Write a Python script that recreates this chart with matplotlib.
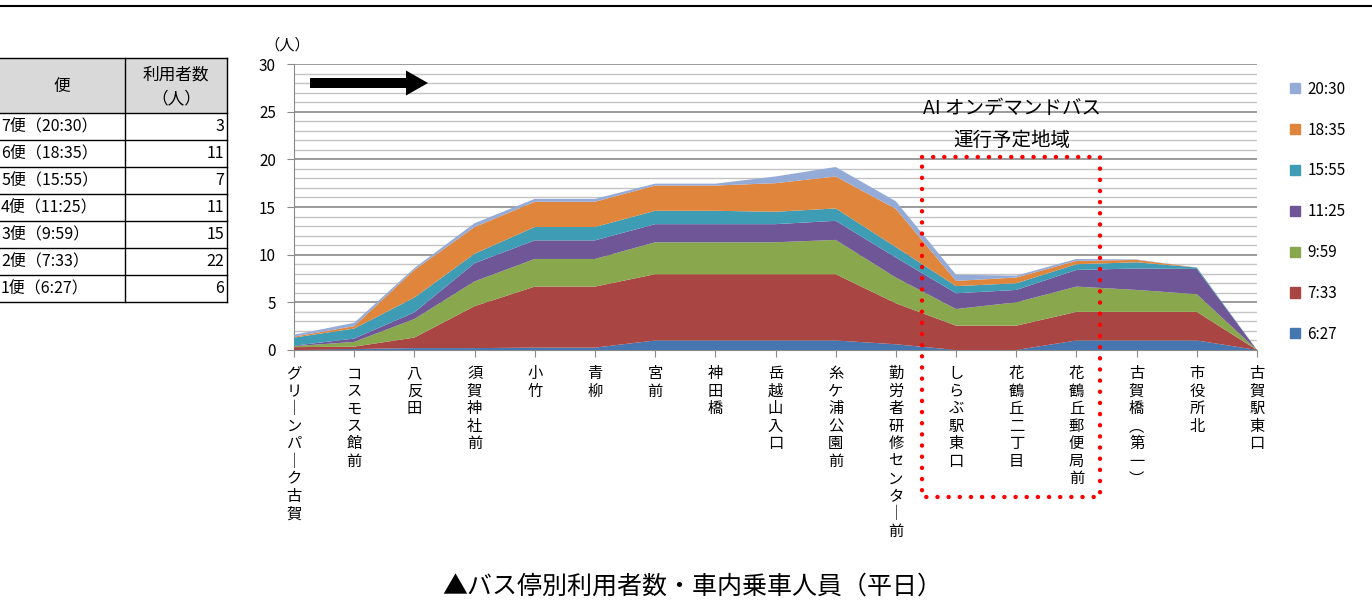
import numpy as np
import matplotlib
matplotlib.use('Agg')
import matplotlib.pyplot as plt
from matplotlib.patches import Patch, Rectangle, FancyArrow

plt.rcParams['font.family'] = ['Noto Sans CJK JP', 'DejaVu Sans']

# bus stops, in running order
stops = ['グリーンパーク古賀', 'コスモス館前', '八反田', '須賀神社前', '小竹', '青柳', '宮前',
         '神田橋', '岳越山入口', '糸ケ浦公園前', '勤労者研修センター前', 'しらぶ駅東口',
         '花鶴丘二丁目', '花鶴丘郵便局前', '古賀橋（第一）', '市役所北', '古賀駅東口']

# riders on board per trip (stacked from bottom)
trips = ['6:27', '7:33', '9:59', '11:25', '15:55', '18:35', '20:30']
t0627 = [0, 0.1, 0.2, 0.2, 0.25, 0.25, 1.0, 1.0, 1.0, 1.0, 0.6, 0, 0, 1.0, 1.0, 1.0, 0]
t0733 = [0.3, 0.25, 1.1, 4.4, 6.4, 6.4, 6.95, 6.95, 6.95, 6.95, 4.3, 2.55, 2.55, 3.0, 3.0, 3.0, 0]
t0959 = [0.1, 0.5, 1.95, 2.6, 2.9, 2.9, 3.35, 3.35, 3.35, 3.6, 2.7, 1.75, 2.45, 2.65, 2.3, 1.85, 0]
t1125 = [0.05, 0.35, 0.7, 1.9, 1.95, 1.95, 1.9, 1.9, 1.9, 2.0, 2.1, 1.65, 1.3, 1.75, 2.25, 2.65, 0]
t1555 = [0.85, 1.05, 1.55, 1.0, 1.4, 1.4, 1.4, 1.4, 1.3, 1.3, 1.1, 0.75, 0.7, 0.6, 0.65, 0.15, 0]
t1835 = [0.1, 0.25, 2.9, 2.8, 2.65, 2.65, 2.65, 2.65, 3.0, 3.35, 4.0, 0.55, 0.6, 0.35, 0.25, 0, 0]
t2030 = [0.2, 0.35, 0.2, 0.4, 0.3, 0.3, 0.2, 0.2, 0.7, 1.0, 0.8, 0.65, 0.2, 0.2, 0.05, 0, 0]
series = [t0627, t0733, t0959, t1125, t1555, t1835, t2030]
colors = ['#4676b0', '#a94543', '#89a84d', '#6f5697', '#3e9db5', '#e0863c', '#95abd7']

# table at left
table_rows = ['7便（20:30）', '6便（18:35）', '5便（15:55）', '4便（11:25）',
              '3便（9:59）', '2便（7:33）', '1便（6:27）']
table_users = [3, 11, 7, 11, 15, 22, 6]

# vertical writing for tick labels
VERT = {'ー': '｜', '（': '︵', '）': '︶'}
def tate(s):
    return '\n'.join(VERT.get(c, c) for c in s)

W, H = 1372, 608
fig = plt.figure(figsize=(W/100, H/100), dpi=100)

# main chart
ax = fig.add_axes([294/W, 1-350/H, (1257-294)/W, (350-64)/H])
x = np.arange(len(stops))
ax.stackplot(x, *series, colors=colors, labels=trips, linewidth=0, zorder=3)
ax.set_xlim(0, len(stops)-1)
ax.set_ylim(0, 30)
ax.set_yticks(range(0, 31, 5))
ax.set_yticks(range(0, 31), minor=True)
ax.grid(which='minor', axis='y', color='#c4c4c4', lw=1.0, zorder=0)
ax.grid(which='major', axis='y', color='#8a8a8a', lw=1.2, zorder=1)
ax.tick_params(axis='y', which='minor', length=0)
ax.tick_params(axis='y', which='major', length=5, color='#8a8a8a', pad=8, labelsize=11)
ax.set_xticks(x)
ax.set_xticklabels([tate(s) for s in stops], fontsize=11)
for lab in ax.get_xticklabels():
    lab.set_linespacing(1.04)
ax.tick_params(axis='x', length=5, color='#8a8a8a', pad=6)
for sp in ['top', 'right']:
    ax.spines[sp].set_visible(False)
ax.spines['left'].set_color('#8a8a8a')
ax.spines['bottom'].set_color('#8a8a8a')
ax.set_axisbelow(True)

handles = [Patch(color=c) for c in colors][::-1]
ax.legend(handles, trips[::-1], loc='upper left', bbox_to_anchor=(1276/W, 1-67/H),
          bbox_transform=fig.transFigure, frameon=False, fontsize=11,
          handlelength=0.65, handleheight=0.65, handletextpad=0.5, labelspacing=1.56)

# decorations in pixel coordinates
deco = fig.add_axes([0, 0, 1, 1], facecolor='none')
deco.set_xlim(0, W)
deco.set_ylim(H, 0)
deco.axis('off')

deco.plot([0, W], [6, 6], color='black', lw=1.5)
deco.text(287, 45, '（人）', ha='center', va='center', fontsize=11)
deco.add_patch(FancyArrow(310, 83, 118, 0, width=10, head_width=25, head_length=22,
                          length_includes_head=True, color='black', lw=0))

deco.text(1012, 108, 'AI オンデマンドバス', ha='center', va='center', fontsize=14)
deco.text(1012, 140, '運行予定地域', ha='center', va='center', fontsize=14)
deco.add_patch(Rectangle((922, 157), 178, 340, fill=False, edgecolor='#ff0000', lw=3.2,
                         linestyle=(0, (0.01, 2.5)), capstyle='round', zorder=5))

deco.text(692, 587, '▲バス停別利用者数・車内乗車人員（平日）', ha='center', va='center',
          fontsize=18)

# table
top, hdr, rh = 58, 113, 27
col, right = 125, 227
deco.add_patch(Rectangle((0, top), right, hdr-top, facecolor='#d9d9d9', edgecolor='none'))
ys = [top, hdr] + [hdr + rh*(i+1) for i in range(len(table_rows))]
for yy in ys:
    deco.plot([0, right], [yy, yy], color='black', lw=1)
deco.plot([col, col], [top, ys[-1]], color='black', lw=1)
deco.plot([right, right], [top, ys[-1]], color='black', lw=1)
deco.text(62, 86, '便', ha='center', va='center', fontsize=12)
deco.text(176, 75, '利用者数', ha='center', va='center', fontsize=12)
deco.text(176, 99, '（人）', ha='center', va='center', fontsize=12)
for i, (name, n) in enumerate(zip(table_rows, table_users)):
    yc = hdr + rh*i + rh/2
    deco.text(1, yc, name, ha='left', va='center', fontsize=11.5)
    deco.text(224, yc, str(n), ha='right', va='center', fontsize=11.5)

fig.savefig('out.png', dpi=100)
